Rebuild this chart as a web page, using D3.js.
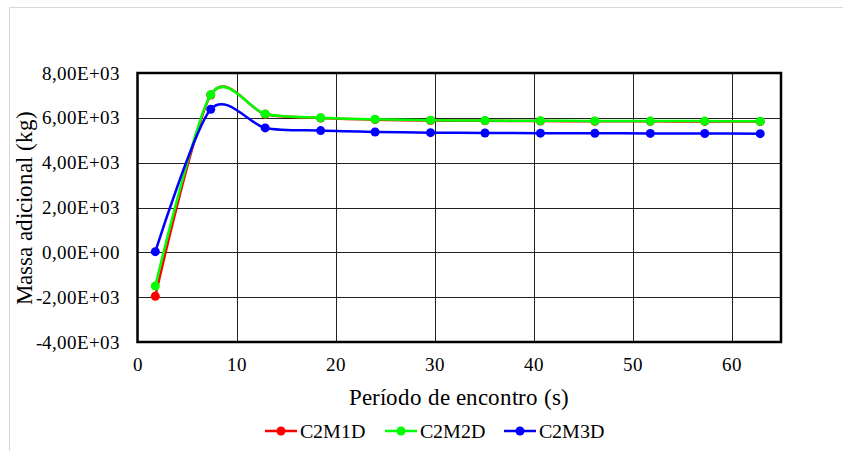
<!DOCTYPE html>
<html>
<head>
<meta charset="utf-8">
<script src="https://cdn.jsdelivr.net/npm/d3@7"></script>
<style>
  @font-face {
    font-family: "ChartSerif";
    src: local("Liberation Serif"), local("LiberationSerif"), local("LiberationSerif-Regular"), local("Liberation Serif Regular"), local("Times New Roman"), local("TimesNewRomanPSMT");
  }
  html, body { margin: 0; padding: 0; background: #fff; }
  .ser { font-family: "ChartSerif", "Liberation Serif", "Times New Roman", monospace; }
</style>
</head>
<body>
<svg id="chart" width="843" height="451"></svg>
<script>
// Encounter period (s) for each sample
const periods = [1.8, 7.4, 12.9, 18.5, 24.0, 29.6, 35.1, 40.7, 46.2, 51.8, 57.3, 62.9];

// Added mass (kg) per configuration
const c2m1d = [-1960, 7020, 6160, 5990, 5920, 5880, 5865, 5855, 5848, 5843, 5840, 5835];
const c2m2d = [-1500, 7035, 6175, 6005, 5935, 5895, 5880, 5870, 5862, 5857, 5854, 5848];
const c2m3d = [30, 6385, 5550, 5430, 5370, 5340, 5325, 5315, 5310, 5305, 5300, 5295];

const seriesNames = ["C2M1D", "C2M2D", "C2M3D"];
const seriesColors = ["#ff0000", "#00ff00", "#0000ff"];

const xTicks = [0, 10, 20, 30, 40, 50, 60];
const yTicks = [-4000, -2000, 0, 2000, 4000, 6000, 8000];
const yTickLabels = ["-4,00E+03", "-2,00E+03", "0,00E+00", "2,00E+03", "4,00E+03", "6,00E+03", "8,00E+03"];

const svg = d3.select("#chart");

// outer chart frame
svg.append("rect")
  .attr("x", 9.5).attr("y", 7.5)
  .attr("width", 860).attr("height", 460)
  .attr("fill", "none").attr("stroke", "#d9d9d9").attr("stroke-width", 1);

const plot = { left: 137.5, right: 781, top: 73, bottom: 342 };

const x = d3.scaleLinear().domain([0, 65]).range([plot.left, plot.right]);
const y = d3.scaleLinear().domain([-4000, 8000]).range([plot.bottom, plot.top]);

// gridlines
const grid = svg.append("g");
grid.selectAll("line.h").data(yTicks.slice(1, -1)).join("line")
  .attr("x1", plot.left).attr("x2", plot.right)
  .attr("y1", d => Math.round(y(d)) + 0.5).attr("y2", d => Math.round(y(d)) + 0.5)
  .attr("stroke", "#222").attr("stroke-width", 1);
grid.selectAll("line.v").data(xTicks.slice(1)).join("line")
  .attr("y1", plot.top).attr("y2", plot.bottom)
  .attr("x1", d => Math.round(x(d)) + 0.5).attr("x2", d => Math.round(x(d)) + 0.5)
  .attr("stroke", "#222").attr("stroke-width", 1);

// axes (labels only; frame drawn separately)
const yAxis = d3.axisLeft(y).tickValues(yTicks)
  .tickFormat((d, i) => yTickLabels[i]).tickSize(0).tickPadding(18);
const gy = svg.append("g").attr("transform", `translate(${plot.left},0)`).call(yAxis);
gy.attr("font-family", null).attr("font-size", null);
gy.select(".domain").remove();
gy.selectAll("text").attr("class", "ser").style("font-size", "19px").attr("fill", "#000");

const xAxis = d3.axisBottom(x).tickValues(xTicks).tickSize(0).tickPadding(16);
const gx = svg.append("g").attr("transform", `translate(0,${plot.bottom})`).call(xAxis);
gx.attr("font-family", null).attr("font-size", null);
gx.select(".domain").remove();
gx.selectAll("text").attr("class", "ser").style("font-size", "19px").attr("fill", "#000");

// series
const data = [c2m1d, c2m2d, c2m3d];
const line = d3.line()
  .x((d, i) => x(periods[i]))
  .y(d => y(d))
  .curve(d3.curveCardinal.tension(0.15));

data.forEach((vals, k) => {
  svg.append("path")
    .datum(vals)
    .attr("d", line)
    .attr("fill", "none")
    .attr("stroke", seriesColors[k])
    .attr("stroke-width", 2.5);
  svg.append("g").selectAll("circle").data(vals).join("circle")
    .attr("cx", (d, i) => x(periods[i]))
    .attr("cy", d => y(d))
    .attr("r", 4.5)
    .attr("fill", seriesColors[k]);
});

// plot frame
svg.append("rect")
  .attr("x", plot.left).attr("y", plot.top)
  .attr("width", plot.right - plot.left).attr("height", plot.bottom - plot.top)
  .attr("fill", "none").attr("stroke", "#000").attr("stroke-width", 2.5);

// axis titles
svg.append("text")
  .attr("class", "ser")
  .attr("x", (plot.left + plot.right) / 2).attr("y", 405)
  .attr("text-anchor", "middle")
  .style("font-size", "23px")
  .text("Período de encontro (s)");

svg.append("text")
  .attr("class", "ser")
  .attr("transform", `translate(32,${(plot.top + plot.bottom) / 2}) rotate(-90)`)
  .attr("text-anchor", "middle")
  .style("font-size", "23px")
  .text("Massa adicional (kg)");

// legend
const legendX = [265, 385, 504];
const legend = svg.append("g");
seriesNames.forEach((name, k) => {
  const g = legend.append("g").attr("transform", `translate(${legendX[k]},431)`);
  g.append("line").attr("x1", 0).attr("x2", 32).attr("y1", 0).attr("y2", 0)
    .attr("stroke", seriesColors[k]).attr("stroke-width", 2.5);
  g.append("circle").attr("cx", 16).attr("cy", 0).attr("r", 4.5).attr("fill", seriesColors[k]);
  g.append("text").attr("class", "ser").attr("x", 35).attr("y", 0).attr("dy", "0.35em")
    .style("font-size", "19.5px").text(name);
});
</script>
</body>
</html>
